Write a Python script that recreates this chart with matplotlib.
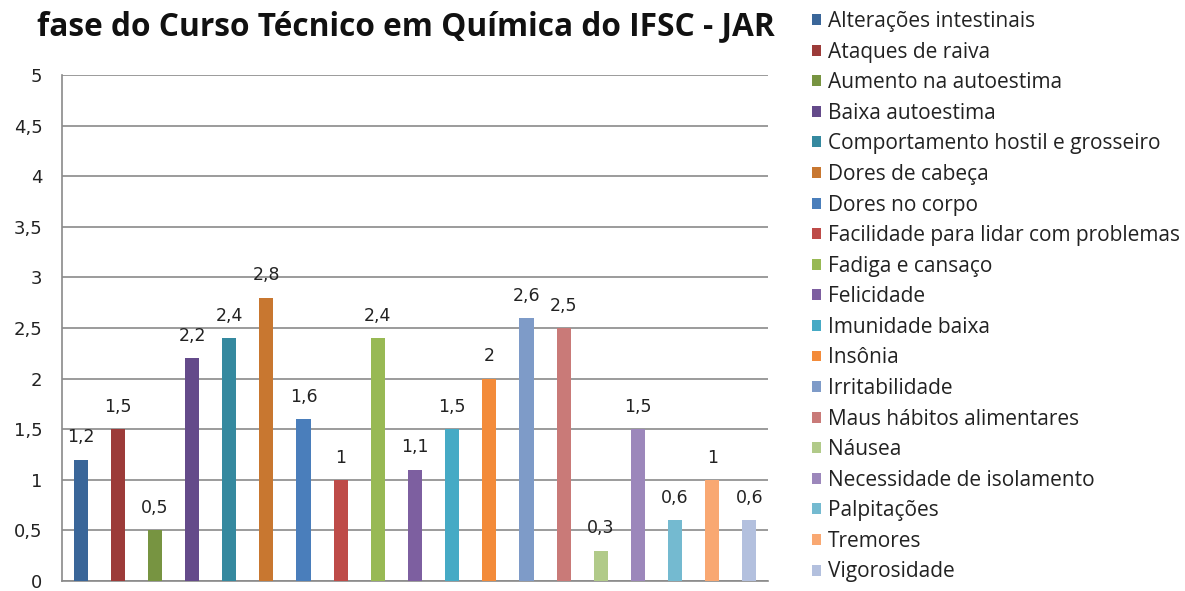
import matplotlib
matplotlib.use("Agg")
import matplotlib.pyplot as plt
from matplotlib.patches import Patch

categories = [
    "Alterações intestinais", "Ataques de raiva", "Aumento na autoestima",
    "Baixa autoestima", "Comportamento hostil e grosseiro", "Dores de cabeça",
    "Dores no corpo", "Facilidade para lidar com problemas", "Fadiga e cansaço",
    "Felicidade", "Imunidade baixa", "Insônia", "Irritabilidade",
    "Maus hábitos alimentares", "Náusea", "Necessidade de isolamento",
    "Palpitações", "Tremores", "Vigorosidade",
]
values = [1.2, 1.5, 0.5, 2.2, 2.4, 2.8, 1.6, 1.0, 2.4, 1.1, 1.5, 2.0, 2.6, 2.5,
          0.3, 1.5, 0.6, 1.0, 0.6]
colors = ["#3A6699", "#9C3B39", "#779441", "#644A8A", "#35899F", "#C87730",
          "#4A7EBB", "#BE4B48", "#98B954", "#7D5FA0", "#46AAC5", "#F38B3A",
          "#7E9BC8", "#C97A78", "#B1CA89", "#9C87BB", "#74BAD0", "#F9A872",
          "#B3C0DE"]
yticks = [0, 0.5, 1, 1.5, 2, 2.5, 3, 3.5, 4, 4.5, 5]
title = "fase do Curso Técnico em Química do IFSC - JAR"

def fmt(v):
    return ("%g" % v).replace(".", ",")

W, H = 1185, 591
fig = plt.figure(figsize=(W / 100, H / 100), dpi=100)
ax = fig.add_axes([62 / W, 1 - 581 / H, (768 - 62) / W, (581 - 75) / H])

x = list(range(len(values)))
ax.bar(x, values, width=0.38, color=colors, zorder=3)
for xi, v in zip(x, values):
    ax.annotate(fmt(v), (xi, v), xytext=(0, 16), textcoords="offset points",
                ha="center", va="center", fontsize=12.5, color="#222222",
                family="DejaVu Sans")

ax.set_xlim(-0.5, len(values) - 0.5)
ax.set_ylim(0, 5)
ax.set_yticks(yticks)
ax.set_yticklabels([fmt(t) for t in yticks], fontsize=13, color="#222222",
                   family="DejaVu Sans")
ax.set_xticks([])
ax.tick_params(axis="y", length=0, pad=14)
ax.grid(axis="y", color="#8A8A8A", linewidth=1.2, zorder=0)
for s in ["top", "right"]:
    ax.spines[s].set_visible(False)
for s in ["left", "bottom"]:
    ax.spines[s].set_color("#8A8A8A")
    ax.spines[s].set_linewidth(1.2)

fig.text(37 / W, 1 - 27 / H, title, ha="left", va="center",
         fontsize=22.8, fontweight="bold", family="Open Sans", color="#111111")

handles = [Patch(facecolor=c, edgecolor="none") for c in colors]
leg = fig.legend(handles, categories, loc="upper left",
                 bbox_to_anchor=(812 / W, 1 - 11 / H), frameon=False,
                 prop={"family": "Open Sans", "size": 15},
                 handlelength=0.43, handleheight=0.43, handletextpad=0.33,
                 labelspacing=0.46, borderaxespad=0, borderpad=0)
for t in leg.get_texts():
    t.set_color("#222222")

fig.savefig("out.png", dpi=100)
